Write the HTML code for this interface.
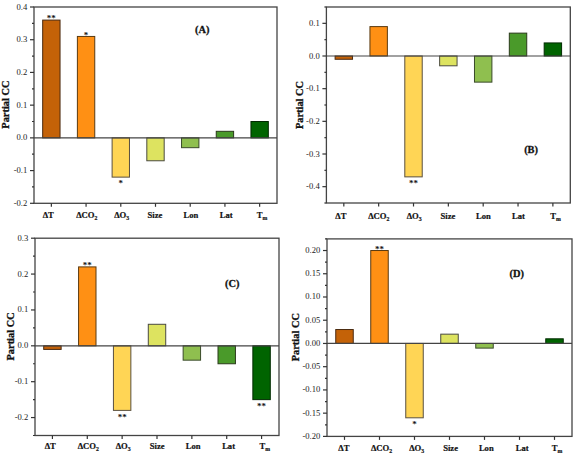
<!DOCTYPE html>
<html><head><meta charset="utf-8"><style>
html,body{margin:0;padding:0;background:#fff;}
body{width:575px;height:455px;overflow:hidden;}
svg{display:block;}
text{font-family:"Liberation Serif",serif;}
.tl{font-size:8.6px;text-anchor:end;fill:#222;}
.xl{font-size:8.6px;font-weight:bold;text-anchor:middle;fill:#111;stroke:#111;stroke-width:0.2px;}
.sub{font-size:5.8px;}
.yl{font-size:10.4px;font-weight:bold;text-anchor:middle;fill:#111;stroke:#111;stroke-width:0.3px;}
.pl{font-size:10.4px;font-weight:bold;text-anchor:middle;fill:#111;stroke:#111;stroke-width:0.3px;}
.st{font-size:9px;font-weight:bold;text-anchor:middle;fill:#111;}
</style></head><body>
<svg width="575" height="455" viewBox="0 0 575 455">
<rect width="575" height="455" fill="#fff"/>
<rect x="42.68" y="20.09" width="17.36" height="117.78" fill="#c46208" stroke="#4a2a10" stroke-width="1"/>
<rect x="77.39" y="36.45" width="17.36" height="101.42" fill="#ff9014" stroke="#5a3a10" stroke-width="1"/>
<rect x="112.11" y="137.87" width="17.36" height="39.26" fill="#ffd555" stroke="#5a5040" stroke-width="1"/>
<rect x="146.82" y="137.87" width="17.36" height="22.90" fill="#dde360" stroke="#4a4a40" stroke-width="1"/>
<rect x="181.54" y="137.87" width="17.36" height="9.81" fill="#8fbf4f" stroke="#3a4a2a" stroke-width="1"/>
<rect x="216.25" y="131.32" width="17.36" height="6.54" fill="#4a9a2a" stroke="#2a3a1a" stroke-width="1"/>
<rect x="250.96" y="121.51" width="17.36" height="16.36" fill="#006400" stroke="#002a00" stroke-width="1"/>
<line x1="34" y1="137.87" x2="277" y2="137.87" stroke="#444" stroke-width="1.2"/>
<text x="51.36" y="21.39" class="st">**</text>
<text x="86.07" y="37.75" class="st">*</text>
<text x="120.79" y="186.43" class="st">*</text>
<rect x="34" y="7" width="243" height="196.3" fill="none" stroke="#444" stroke-width="1.3"/>
<line x1="30" y1="203.30" x2="34" y2="203.30" stroke="#333" stroke-width="1.2"/>
<text x="27.30" y="205.80" class="tl">-0.2</text>
<line x1="32" y1="186.94" x2="34" y2="186.94" stroke="#333" stroke-width="1.2"/>
<line x1="30" y1="170.58" x2="34" y2="170.58" stroke="#333" stroke-width="1.2"/>
<text x="27.30" y="173.08" class="tl">-0.1</text>
<line x1="32" y1="154.22" x2="34" y2="154.22" stroke="#333" stroke-width="1.2"/>
<line x1="30" y1="137.87" x2="34" y2="137.87" stroke="#333" stroke-width="1.2"/>
<text x="27.30" y="140.37" class="tl">0.0</text>
<line x1="32" y1="121.51" x2="34" y2="121.51" stroke="#333" stroke-width="1.2"/>
<line x1="30" y1="105.15" x2="34" y2="105.15" stroke="#333" stroke-width="1.2"/>
<text x="27.30" y="107.65" class="tl">0.1</text>
<line x1="32" y1="88.79" x2="34" y2="88.79" stroke="#333" stroke-width="1.2"/>
<line x1="30" y1="72.43" x2="34" y2="72.43" stroke="#333" stroke-width="1.2"/>
<text x="27.30" y="74.93" class="tl">0.2</text>
<line x1="32" y1="56.08" x2="34" y2="56.08" stroke="#333" stroke-width="1.2"/>
<line x1="30" y1="39.72" x2="34" y2="39.72" stroke="#333" stroke-width="1.2"/>
<text x="27.30" y="42.22" class="tl">0.3</text>
<line x1="32" y1="23.36" x2="34" y2="23.36" stroke="#333" stroke-width="1.2"/>
<line x1="30" y1="7.00" x2="34" y2="7.00" stroke="#333" stroke-width="1.2"/>
<text x="27.30" y="9.50" class="tl">0.4</text>
<line x1="51.36" y1="203.3" x2="51.36" y2="206.8" stroke="#333" stroke-width="1.2"/>
<text x="48.30" y="217.50" class="xl">ΔT</text>
<line x1="86.07" y1="203.3" x2="86.07" y2="206.8" stroke="#333" stroke-width="1.2"/>
<text x="86.80" y="217.50" class="xl">ΔCO<tspan class="sub" dy="2.3">2</tspan></text>
<line x1="120.79" y1="203.3" x2="120.79" y2="206.8" stroke="#333" stroke-width="1.2"/>
<text x="121.70" y="217.50" class="xl">ΔO<tspan class="sub" dy="2.3">3</tspan></text>
<line x1="155.50" y1="203.3" x2="155.50" y2="206.8" stroke="#333" stroke-width="1.2"/>
<text x="154.90" y="217.50" class="xl">Size</text>
<line x1="190.21" y1="203.3" x2="190.21" y2="206.8" stroke="#333" stroke-width="1.2"/>
<text x="191.00" y="217.50" class="xl">Lon</text>
<line x1="224.93" y1="203.3" x2="224.93" y2="206.8" stroke="#333" stroke-width="1.2"/>
<text x="226.20" y="217.50" class="xl">Lat</text>
<line x1="259.64" y1="203.3" x2="259.64" y2="206.8" stroke="#333" stroke-width="1.2"/>
<text x="262.00" y="217.50" class="xl">T<tspan class="sub" dy="2.3">m</tspan></text>
<text x="0" y="0" class="yl" transform="translate(9.40,104.60) rotate(-90)">Partial CC</text>
<text x="202.2" y="32.5" class="pl">(A)</text>
<rect x="335.11" y="56.00" width="17.42" height="3.27" fill="#c46208" stroke="#4a2a10" stroke-width="1"/>
<rect x="369.95" y="26.60" width="17.42" height="29.40" fill="#ff9014" stroke="#5a3a10" stroke-width="1"/>
<rect x="404.80" y="56.00" width="17.42" height="120.87" fill="#ffd555" stroke="#5a5040" stroke-width="1"/>
<rect x="439.64" y="56.00" width="17.42" height="9.80" fill="#dde360" stroke="#4a4a40" stroke-width="1"/>
<rect x="474.48" y="56.00" width="17.42" height="26.13" fill="#8fbf4f" stroke="#3a4a2a" stroke-width="1"/>
<rect x="509.32" y="33.13" width="17.42" height="22.87" fill="#4a9a2a" stroke="#2a3a1a" stroke-width="1"/>
<rect x="544.17" y="42.93" width="17.42" height="13.07" fill="#006400" stroke="#002a00" stroke-width="1"/>
<line x1="326.4" y1="56.00" x2="570.3" y2="56.00" stroke="#444" stroke-width="1.2"/>
<text x="413.51" y="186.17" class="st">**</text>
<rect x="326.4" y="7" width="243.89999999999998" height="196" fill="none" stroke="#444" stroke-width="1.3"/>
<line x1="324.4" y1="203.00" x2="326.4" y2="203.00" stroke="#333" stroke-width="1.2"/>
<line x1="322.4" y1="186.67" x2="326.4" y2="186.67" stroke="#333" stroke-width="1.2"/>
<text x="319.70" y="189.17" class="tl">-0.4</text>
<line x1="324.4" y1="170.33" x2="326.4" y2="170.33" stroke="#333" stroke-width="1.2"/>
<line x1="322.4" y1="154.00" x2="326.4" y2="154.00" stroke="#333" stroke-width="1.2"/>
<text x="319.70" y="156.50" class="tl">-0.3</text>
<line x1="324.4" y1="137.67" x2="326.4" y2="137.67" stroke="#333" stroke-width="1.2"/>
<line x1="322.4" y1="121.33" x2="326.4" y2="121.33" stroke="#333" stroke-width="1.2"/>
<text x="319.70" y="123.83" class="tl">-0.2</text>
<line x1="324.4" y1="105.00" x2="326.4" y2="105.00" stroke="#333" stroke-width="1.2"/>
<line x1="322.4" y1="88.67" x2="326.4" y2="88.67" stroke="#333" stroke-width="1.2"/>
<text x="319.70" y="91.17" class="tl">-0.1</text>
<line x1="324.4" y1="72.33" x2="326.4" y2="72.33" stroke="#333" stroke-width="1.2"/>
<line x1="322.4" y1="56.00" x2="326.4" y2="56.00" stroke="#333" stroke-width="1.2"/>
<text x="319.70" y="58.50" class="tl">0.0</text>
<line x1="324.4" y1="39.67" x2="326.4" y2="39.67" stroke="#333" stroke-width="1.2"/>
<line x1="322.4" y1="23.33" x2="326.4" y2="23.33" stroke="#333" stroke-width="1.2"/>
<text x="319.70" y="25.83" class="tl">0.1</text>
<line x1="324.4" y1="7.00" x2="326.4" y2="7.00" stroke="#333" stroke-width="1.2"/>
<line x1="343.82" y1="203" x2="343.82" y2="206.5" stroke="#333" stroke-width="1.2"/>
<text x="340.90" y="219.10" class="xl">ΔT</text>
<line x1="378.66" y1="203" x2="378.66" y2="206.5" stroke="#333" stroke-width="1.2"/>
<text x="378.80" y="219.10" class="xl">ΔCO<tspan class="sub" dy="2.3">2</tspan></text>
<line x1="413.51" y1="203" x2="413.51" y2="206.5" stroke="#333" stroke-width="1.2"/>
<text x="414.20" y="219.10" class="xl">ΔO<tspan class="sub" dy="2.3">3</tspan></text>
<line x1="448.35" y1="203" x2="448.35" y2="206.5" stroke="#333" stroke-width="1.2"/>
<text x="448.00" y="219.10" class="xl">Size</text>
<line x1="483.19" y1="203" x2="483.19" y2="206.5" stroke="#333" stroke-width="1.2"/>
<text x="483.50" y="219.10" class="xl">Lon</text>
<line x1="518.04" y1="203" x2="518.04" y2="206.5" stroke="#333" stroke-width="1.2"/>
<text x="518.40" y="219.10" class="xl">Lat</text>
<line x1="552.88" y1="203" x2="552.88" y2="206.5" stroke="#333" stroke-width="1.2"/>
<text x="555.60" y="219.10" class="xl">T<tspan class="sub" dy="2.3">m</tspan></text>
<text x="0" y="0" class="yl" transform="translate(303.40,105.00) rotate(-90)">Partial CC</text>
<text x="531.1" y="152.5" class="pl">(B)</text>
<rect x="43.71" y="345.82" width="17.43" height="3.59" fill="#c46208" stroke="#4a2a10" stroke-width="1"/>
<rect x="78.57" y="266.90" width="17.43" height="78.92" fill="#ff9014" stroke="#5a3a10" stroke-width="1"/>
<rect x="113.43" y="345.82" width="17.43" height="64.57" fill="#ffd555" stroke="#5a5040" stroke-width="1"/>
<rect x="148.29" y="324.29" width="17.43" height="21.52" fill="#dde360" stroke="#4a4a40" stroke-width="1"/>
<rect x="183.14" y="345.82" width="17.43" height="14.35" fill="#8fbf4f" stroke="#3a4a2a" stroke-width="1"/>
<rect x="218.00" y="345.82" width="17.43" height="17.94" fill="#4a9a2a" stroke="#2a3a1a" stroke-width="1"/>
<rect x="252.86" y="345.82" width="17.43" height="53.81" fill="#006400" stroke="#002a00" stroke-width="1"/>
<line x1="35" y1="345.82" x2="279" y2="345.82" stroke="#444" stroke-width="1.2"/>
<text x="87.29" y="268.20" class="st">**</text>
<text x="122.14" y="419.69" class="st">**</text>
<text x="261.57" y="408.93" class="st">**</text>
<rect x="35" y="238.2" width="244" height="197.3" fill="none" stroke="#444" stroke-width="1.3"/>
<line x1="33" y1="435.50" x2="35" y2="435.50" stroke="#333" stroke-width="1.2"/>
<line x1="31" y1="417.56" x2="35" y2="417.56" stroke="#333" stroke-width="1.2"/>
<text x="28.30" y="420.06" class="tl">-0.2</text>
<line x1="33" y1="399.63" x2="35" y2="399.63" stroke="#333" stroke-width="1.2"/>
<line x1="31" y1="381.69" x2="35" y2="381.69" stroke="#333" stroke-width="1.2"/>
<text x="28.30" y="384.19" class="tl">-0.1</text>
<line x1="33" y1="363.75" x2="35" y2="363.75" stroke="#333" stroke-width="1.2"/>
<line x1="31" y1="345.82" x2="35" y2="345.82" stroke="#333" stroke-width="1.2"/>
<text x="28.30" y="348.32" class="tl">0.0</text>
<line x1="33" y1="327.88" x2="35" y2="327.88" stroke="#333" stroke-width="1.2"/>
<line x1="31" y1="309.95" x2="35" y2="309.95" stroke="#333" stroke-width="1.2"/>
<text x="28.30" y="312.45" class="tl">0.1</text>
<line x1="33" y1="292.01" x2="35" y2="292.01" stroke="#333" stroke-width="1.2"/>
<line x1="31" y1="274.07" x2="35" y2="274.07" stroke="#333" stroke-width="1.2"/>
<text x="28.30" y="276.57" class="tl">0.2</text>
<line x1="33" y1="256.14" x2="35" y2="256.14" stroke="#333" stroke-width="1.2"/>
<line x1="31" y1="238.20" x2="35" y2="238.20" stroke="#333" stroke-width="1.2"/>
<text x="28.30" y="240.70" class="tl">0.3</text>
<line x1="52.43" y1="435.5" x2="52.43" y2="439.0" stroke="#333" stroke-width="1.2"/>
<text x="50.20" y="449.10" class="xl">ΔT</text>
<line x1="87.29" y1="435.5" x2="87.29" y2="439.0" stroke="#333" stroke-width="1.2"/>
<text x="88.30" y="449.10" class="xl">ΔCO<tspan class="sub" dy="2.3">2</tspan></text>
<line x1="122.14" y1="435.5" x2="122.14" y2="439.0" stroke="#333" stroke-width="1.2"/>
<text x="123.20" y="449.10" class="xl">ΔO<tspan class="sub" dy="2.3">3</tspan></text>
<line x1="157.00" y1="435.5" x2="157.00" y2="439.0" stroke="#333" stroke-width="1.2"/>
<text x="157.20" y="449.10" class="xl">Size</text>
<line x1="191.86" y1="435.5" x2="191.86" y2="439.0" stroke="#333" stroke-width="1.2"/>
<text x="193.10" y="449.10" class="xl">Lon</text>
<line x1="226.71" y1="435.5" x2="226.71" y2="439.0" stroke="#333" stroke-width="1.2"/>
<text x="228.60" y="449.10" class="xl">Lat</text>
<line x1="261.57" y1="435.5" x2="261.57" y2="439.0" stroke="#333" stroke-width="1.2"/>
<text x="264.70" y="449.10" class="xl">T<tspan class="sub" dy="2.3">m</tspan></text>
<text x="0" y="0" class="yl" transform="translate(13.60,336.40) rotate(-90)">Partial CC</text>
<text x="232.2" y="287.4" class="pl">(C)</text>
<rect x="335.75" y="329.52" width="17.50" height="13.94" fill="#c46208" stroke="#4a2a10" stroke-width="1"/>
<rect x="370.75" y="250.52" width="17.50" height="92.94" fill="#ff9014" stroke="#5a3a10" stroke-width="1"/>
<rect x="405.75" y="343.46" width="17.50" height="74.35" fill="#ffd555" stroke="#5a5040" stroke-width="1"/>
<rect x="440.75" y="334.16" width="17.50" height="9.29" fill="#dde360" stroke="#4a4a40" stroke-width="1"/>
<rect x="475.75" y="343.46" width="17.50" height="4.65" fill="#8fbf4f" stroke="#3a4a2a" stroke-width="1"/>
<rect x="545.75" y="338.81" width="17.50" height="4.65" fill="#006400" stroke="#002a00" stroke-width="1"/>
<line x1="327" y1="343.46" x2="572" y2="343.46" stroke="#444" stroke-width="1.2"/>
<text x="379.50" y="251.82" class="st">**</text>
<text x="414.50" y="427.11" class="st">*</text>
<rect x="327" y="238.9" width="245" height="197.49999999999997" fill="none" stroke="#444" stroke-width="1.3"/>
<line x1="323" y1="436.40" x2="327" y2="436.40" stroke="#333" stroke-width="1.2"/>
<text x="320.30" y="438.90" class="tl">-0.20</text>
<line x1="325" y1="424.78" x2="327" y2="424.78" stroke="#333" stroke-width="1.2"/>
<line x1="323" y1="413.16" x2="327" y2="413.16" stroke="#333" stroke-width="1.2"/>
<text x="320.30" y="415.66" class="tl">-0.15</text>
<line x1="325" y1="401.55" x2="327" y2="401.55" stroke="#333" stroke-width="1.2"/>
<line x1="323" y1="389.93" x2="327" y2="389.93" stroke="#333" stroke-width="1.2"/>
<text x="320.30" y="392.43" class="tl">-0.10</text>
<line x1="325" y1="378.31" x2="327" y2="378.31" stroke="#333" stroke-width="1.2"/>
<line x1="323" y1="366.69" x2="327" y2="366.69" stroke="#333" stroke-width="1.2"/>
<text x="320.30" y="369.19" class="tl">-0.05</text>
<line x1="325" y1="355.08" x2="327" y2="355.08" stroke="#333" stroke-width="1.2"/>
<line x1="323" y1="343.46" x2="327" y2="343.46" stroke="#333" stroke-width="1.2"/>
<text x="320.30" y="345.96" class="tl">0.00</text>
<line x1="325" y1="331.84" x2="327" y2="331.84" stroke="#333" stroke-width="1.2"/>
<line x1="323" y1="320.22" x2="327" y2="320.22" stroke="#333" stroke-width="1.2"/>
<text x="320.30" y="322.72" class="tl">0.05</text>
<line x1="325" y1="308.61" x2="327" y2="308.61" stroke="#333" stroke-width="1.2"/>
<line x1="323" y1="296.99" x2="327" y2="296.99" stroke="#333" stroke-width="1.2"/>
<text x="320.30" y="299.49" class="tl">0.10</text>
<line x1="325" y1="285.37" x2="327" y2="285.37" stroke="#333" stroke-width="1.2"/>
<line x1="323" y1="273.75" x2="327" y2="273.75" stroke="#333" stroke-width="1.2"/>
<text x="320.30" y="276.25" class="tl">0.15</text>
<line x1="325" y1="262.14" x2="327" y2="262.14" stroke="#333" stroke-width="1.2"/>
<line x1="323" y1="250.52" x2="327" y2="250.52" stroke="#333" stroke-width="1.2"/>
<text x="320.30" y="253.02" class="tl">0.20</text>
<line x1="325" y1="238.90" x2="327" y2="238.90" stroke="#333" stroke-width="1.2"/>
<line x1="344.50" y1="436.4" x2="344.50" y2="439.9" stroke="#333" stroke-width="1.2"/>
<text x="343.90" y="451.10" class="xl">ΔT</text>
<line x1="379.50" y1="436.4" x2="379.50" y2="439.9" stroke="#333" stroke-width="1.2"/>
<text x="381.50" y="451.10" class="xl">ΔCO<tspan class="sub" dy="2.3">2</tspan></text>
<line x1="414.50" y1="436.4" x2="414.50" y2="439.9" stroke="#333" stroke-width="1.2"/>
<text x="416.70" y="451.10" class="xl">ΔO<tspan class="sub" dy="2.3">3</tspan></text>
<line x1="449.50" y1="436.4" x2="449.50" y2="439.9" stroke="#333" stroke-width="1.2"/>
<text x="450.60" y="451.10" class="xl">Size</text>
<line x1="484.50" y1="436.4" x2="484.50" y2="439.9" stroke="#333" stroke-width="1.2"/>
<text x="486.30" y="451.10" class="xl">Lon</text>
<line x1="519.50" y1="436.4" x2="519.50" y2="439.9" stroke="#333" stroke-width="1.2"/>
<text x="522.20" y="451.10" class="xl">Lat</text>
<line x1="554.50" y1="436.4" x2="554.50" y2="439.9" stroke="#333" stroke-width="1.2"/>
<text x="557.00" y="451.10" class="xl">T<tspan class="sub" dy="2.3">m</tspan></text>
<text x="0" y="0" class="yl" transform="translate(298.80,337.20) rotate(-90)">Partial CC</text>
<text x="516.8" y="276.8" class="pl">(D)</text>
</svg>
</body></html>
